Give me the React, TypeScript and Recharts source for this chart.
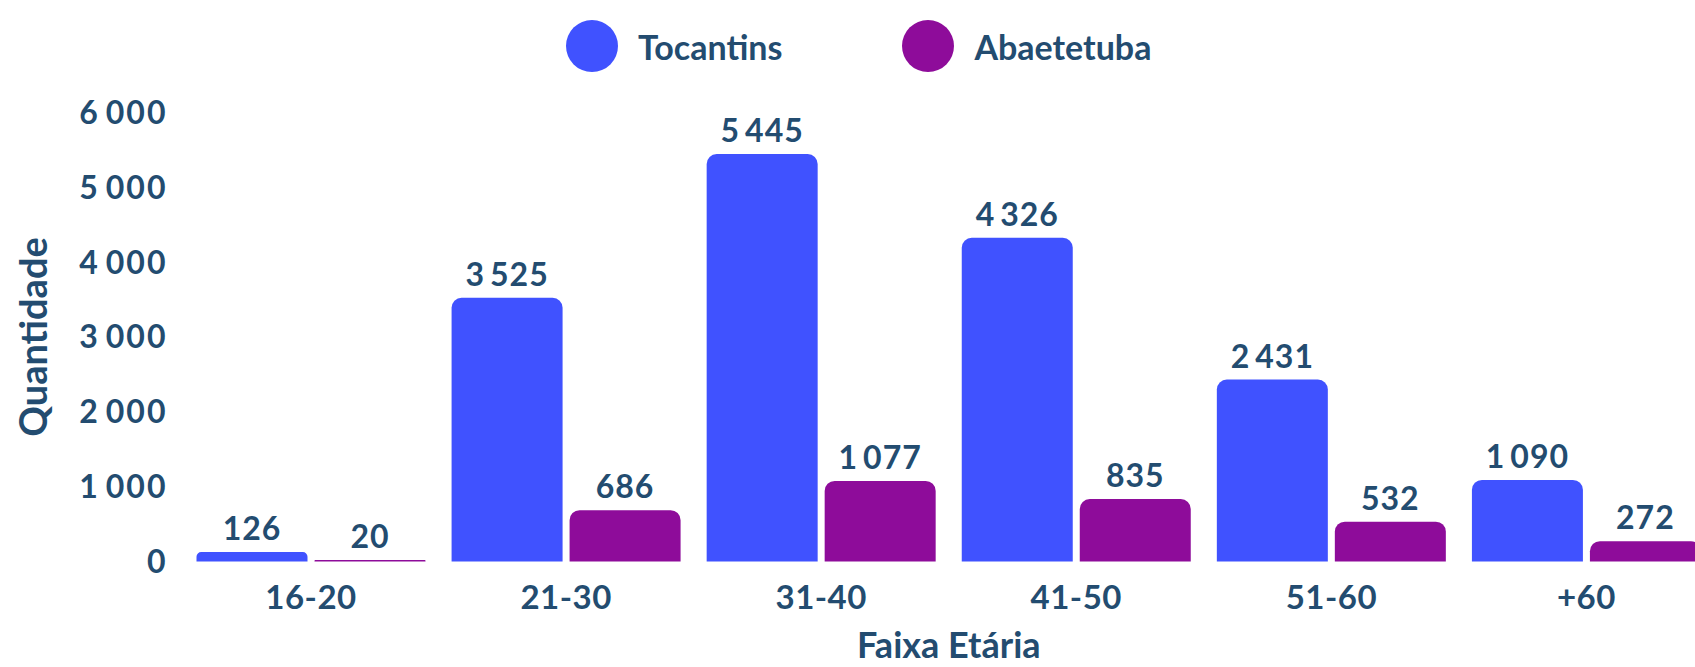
import React from 'react';
import { BarChart, Bar, XAxis, YAxis, LabelList, Label } from 'recharts';

const faixas = ['16-20', '21-30', '31-40', '41-50', '51-60', '+60'];
const tocantins = [126, 3525, 5445, 4326, 2431, 1090];
const abaetetuba = [20, 686, 1077, 835, 532, 272];
const yTicks = [0, 1000, 2000, 3000, 4000, 5000, 6000];

const BLUE = '#4052FF';
const PURPLE = '#8E0C9A';
const TEXT = '#234C70';
const FONT = 'Lato, "Open Sans", sans-serif';

const data = faixas.map((faixa, i) => ({
  faixa,
  tocantins: tocantins[i],
  abaetetuba: abaetetuba[i],
}));

function fmt(v: number | string): string {
  return String(v).replace(/\B(?=(\d{3})+(?!\d))/g, '\u2009');
}

function LegendItem({ color, label }: { color: string; label: string }) {
  return (
    <div style={{ display: 'flex', alignItems: 'center' }}>
      <span
        style={{
          width: 52,
          height: 52,
          borderRadius: '50%',
          background: color,
          display: 'inline-block',
          marginRight: 20,
        }}
      />
      <span style={{ fontFamily: FONT, fontWeight: 700, fontSize: 34, color: TEXT }}>{label}</span>
    </div>
  );
}

const labelStyle = { fontFamily: FONT, fontWeight: 700, fontSize: 32, letterSpacing: 1 };

export default function App() {
  return (
    <div
      style={{
        position: 'absolute',
        left: 0,
        top: 0,
        width: 1695,
        height: 667,
        overflow: 'hidden',
        background: '#fff',
      }}
    >
      <div
        style={{
          position: 'absolute',
          left: 566,
          top: 20,
          display: 'flex',
          gap: 120,
        }}
      >
        <LegendItem color={BLUE} label="Tocantins" />
        <LegendItem color={PURPLE} label="Abaetetuba" />
      </div>
      <BarChart
        width={1714}
        height={667}
        data={data}
        margin={{ top: 112.5, right: 0, left: 0, bottom: 45.5 }}
        barGap={7}
        barCategoryGap={13}
      >
        <XAxis
          dataKey="faixa"
          axisLine={false}
          tickLine={false}
          tickSize={6}
          tickMargin={18}
          height={60}
          tick={{ fill: TEXT, fontFamily: FONT, fontWeight: 700, fontSize: 33, letterSpacing: 0.5 }}
        >
          <Label
            value="Faixa Etária"
            position="bottom"
            offset={11}
            fill={TEXT}
            style={{ fontFamily: FONT, fontWeight: 700, fontSize: 36 }}
          />
        </XAxis>
        <YAxis
          width={183.5}
          domain={[0, 6000]}
          ticks={yTicks}
          axisLine={false}
          tickLine={false}
          tickSize={6}
          tickMargin={10}
          tickFormatter={fmt}
          tick={{ fill: TEXT, fontFamily: FONT, fontWeight: 700, fontSize: 32, letterSpacing: 2 }}
        >
          <Label
            content={({ viewBox }: any) => {
              const cy = viewBox.y + viewBox.height / 2;
              return (
                <text
                  x={32}
                  y={cy}
                  transform={`rotate(-90, 32, ${cy})`}
                  textAnchor="middle"
                  dominantBaseline="central"
                  fill={TEXT}
                  style={{ fontFamily: FONT, fontWeight: 700, fontSize: 38 }}
                >
                  Quantidade
                </text>
              );
            }}
          />
        </YAxis>
        <Bar dataKey="tocantins" fill={BLUE} radius={[10, 10, 0, 0]} isAnimationActive={false}>
          <LabelList
            dataKey="tocantins"
            position="top"
            offset={12}
            formatter={fmt}
            fill={TEXT}
            style={labelStyle}
          />
        </Bar>
        <Bar dataKey="abaetetuba" fill={PURPLE} radius={[10, 10, 0, 0]} isAnimationActive={false}>
          <LabelList
            dataKey="abaetetuba"
            position="top"
            offset={12}
            formatter={fmt}
            fill={TEXT}
            style={labelStyle}
          />
        </Bar>
      </BarChart>
    </div>
  );
}
